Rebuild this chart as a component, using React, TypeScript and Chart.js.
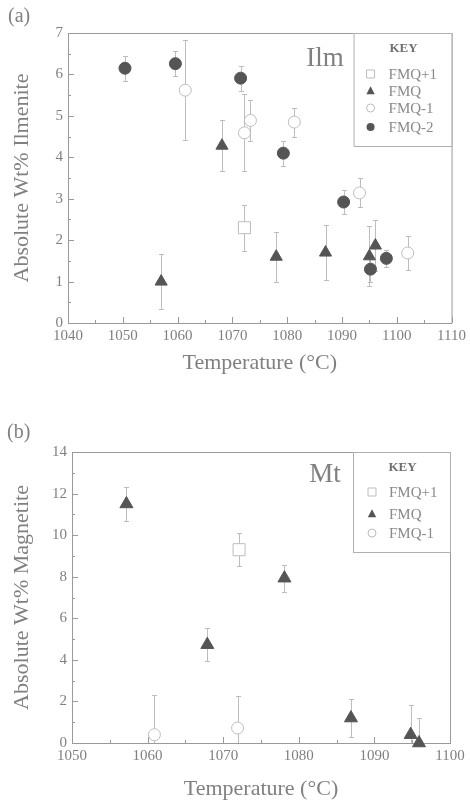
import React, { useEffect, useRef } from 'react';
import { Chart, registerables } from 'chart.js';

Chart.register(...registerables);

// ---------- Panel (a): Ilmenite ----------
const ilmFmqP1Temp = [1072.2];
const ilmFmqP1Wt = [2.3];
const ilmFmqP1Err = [0.55];

const ilmFmqTemp = [1057.0, 1068.1, 1078.0, 1087.0, 1095.0, 1096.1];
const ilmFmqWt = [1.0, 4.28, 1.6, 1.7, 1.61, 1.87];
const ilmFmqErr = [0.67, 0.62, 0.6, 0.67, 0.72, 0.62];

const ilmFmqM1Temp = [1061.4, 1072.2, 1073.3, 1081.3, 1093.2, 1102.0];
const ilmFmqM1Wt = [5.62, 4.59, 4.89, 4.85, 3.14, 1.69];
const ilmFmqM1Err = [1.2, 0.93, 0.5, 0.35, 0.35, 0.4];

const ilmFmqM2Temp = [1050.4, 1059.6, 1071.5, 1079.3, 1090.3, 1095.2, 1098.1];
const ilmFmqM2Wt = [6.15, 6.26, 5.91, 4.1, 2.92, 1.3, 1.56];
const ilmFmqM2Err = [0.3, 0.3, 0.3, 0.3, 0.3, 0.3, 0.2];

const ilmXRange = [1040, 1110, 10];
const ilmYRange = [0, 7, 1];

// ---------- Panel (b): Magnetite ----------
const mtFmqP1Temp = [1072.1];
const mtFmqP1Wt = [9.3];
const mtFmqP1Err = [0.8];

const mtFmqTemp = [1057.2, 1067.9, 1078.1, 1086.9, 1094.8, 1095.9];
const mtFmqWt = [11.5, 4.73, 7.93, 1.2, 0.4, 0.0];
const mtFmqErr = [0.8, 0.8, 0.65, 0.9, 1.45, 1.2];

const mtFmqM1Temp = [1060.9, 1071.9];
const mtFmqM1Wt = [0.4, 0.72];
const mtFmqM1Err = [1.9, 1.55];

const mtXRange = [1050, 1100, 10];
const mtYRange = [0, 14, 2];

const seriesNames = ['FMQ+1', 'FMQ', 'FMQ-1', 'FMQ-2'];

const SERIF = '"Liberation Serif", "DejaVu Serif", serif';
const TEXT = '#808080';
const DARK = '#555555';
const LIGHT = '#bdbdbd';
const AXIS = '#9a9a9a';

function pts(xs: number[], ys: number[]) {
  return xs.map((x, i) => ({ x, y: ys[i] }));
}

type Style = { kind: 'square' | 'triangle' | 'open' | 'filled' };

function drawMarker(ctx: CanvasRenderingContext2D, kind: string, x: number, y: number, s: number) {
  ctx.save();
  ctx.lineWidth = 1;
  ctx.beginPath();
  if (kind === 'square') {
    ctx.rect(x - s, y - s, 2 * s, 2 * s);
    ctx.fillStyle = '#fff';
    ctx.strokeStyle = LIGHT;
    ctx.fill();
    ctx.stroke();
  } else if (kind === 'triangle') {
    ctx.moveTo(x, y - s * 1.2);
    ctx.lineTo(x + s * 1.05, y + s * 0.8);
    ctx.lineTo(x - s * 1.05, y + s * 0.8);
    ctx.closePath();
    ctx.fillStyle = DARK;
    ctx.fill();
  } else if (kind === 'open') {
    ctx.arc(x, y, s, 0, Math.PI * 2);
    ctx.fillStyle = '#fff';
    ctx.strokeStyle = LIGHT;
    ctx.fill();
    ctx.stroke();
  } else {
    ctx.arc(x, y, s, 0, Math.PI * 2);
    ctx.fillStyle = DARK;
    ctx.fill();
  }
  ctx.restore();
}

const decorPlugin = {
  id: 'decor',
  beforeDatasetsDraw(chart: any, _args: any, opts: any) {
    const ctx: CanvasRenderingContext2D = chart.ctx;
    const xs = chart.scales.x;
    const ys = chart.scales.y;
    const a = chart.chartArea;
    ctx.save();
    // frame top/right
    ctx.strokeStyle = AXIS;
    ctx.lineWidth = 1;
    ctx.beginPath();
    ctx.moveTo(a.left, a.top + 0.5);
    ctx.lineTo(a.right + 0.5, a.top + 0.5);
    ctx.lineTo(a.right + 0.5, a.bottom);
    ctx.stroke();
    // inward ticks
    const xMin = xs.min, xMax = xs.max;
    for (let v = xMin; v <= xMax + 1e-9; v += opts.xMinor) {
      const px = Math.round(xs.getPixelForValue(v)) + 0.5;
      const major = Math.abs((v - xMin) / opts.xMajor - Math.round((v - xMin) / opts.xMajor)) < 1e-6;
      const len = major ? 6 : 3;
      ctx.beginPath();
      ctx.moveTo(px, a.bottom);
      ctx.lineTo(px, a.bottom - len);
      ctx.stroke();
    }
    const yMin = ys.min, yMax = ys.max;
    for (let v = yMin; v <= yMax + 1e-9; v += opts.yMinor) {
      const py = Math.round(ys.getPixelForValue(v)) + 0.5;
      const major = Math.abs((v - yMin) / opts.yMajor - Math.round((v - yMin) / opts.yMajor)) < 1e-6;
      const len = major ? 6 : 3;
      ctx.beginPath();
      ctx.moveTo(a.left, py);
      ctx.lineTo(a.left + len, py);
      ctx.stroke();
    }
    // error bars
    ctx.beginPath();
    ctx.rect(a.left, a.top, a.right - a.left, a.bottom - a.top);
    ctx.clip();
    ctx.strokeStyle = LIGHT;
    ctx.lineWidth = 1;
    chart.data.datasets.forEach((ds: any) => {
      const errs: number[] = ds.errors;
      if (!errs) return;
      ds.data.forEach((p: any, i: number) => {
        const px = Math.round(xs.getPixelForValue(p.x)) + 0.5;
        const t = Math.round(ys.getPixelForValue(p.y + errs[i])) + 0.5;
        const b = Math.round(ys.getPixelForValue(p.y - errs[i])) + 0.5;
        ctx.beginPath();
        ctx.moveTo(px, t);
        ctx.lineTo(px, b);
        ctx.moveTo(px - 2.5, t);
        ctx.lineTo(px + 2.5, t);
        ctx.moveTo(px - 2.5, b);
        ctx.lineTo(px + 2.5, b);
        ctx.stroke();
      });
    });
    ctx.restore();
  },
  afterDatasetsDraw(chart: any, _args: any, opts: any) {
    const ctx: CanvasRenderingContext2D = chart.ctx;
    const a = chart.chartArea;
    ctx.save();
    // panel label
    ctx.fillStyle = TEXT;
    ctx.font = `20px ${SERIF}`;
    ctx.textBaseline = 'middle';
    ctx.textAlign = 'left';
    ctx.fillText(opts.panel, opts.panelX, opts.panelY);
    // mineral label
    ctx.font = `27px ${SERIF}`;
    ctx.textAlign = 'center';
    ctx.fillText(opts.mineral, opts.mineralX, opts.mineralY);
    // legend box
    const bx = a.right - opts.legendW;
    const by = a.top;
    ctx.strokeStyle = '#b0b0b0';
    ctx.lineWidth = 1;
    ctx.fillStyle = '#fff';
    ctx.fillRect(bx, by, opts.legendW, opts.legendH);
    ctx.strokeRect(bx + 0.5, by + 0.5, opts.legendW, opts.legendH);
    ctx.fillStyle = '#707070';
    ctx.font = `bold 13px ${SERIF}`;
    ctx.textAlign = 'center';
    ctx.fillText('KEY', bx + opts.legendW / 2 + 1, by + opts.keyDy);
    ctx.font = `15px ${SERIF}`;
    ctx.textAlign = 'left';
    const kinds = ['square', 'triangle', 'open', 'filled'];
    chart.data.datasets.forEach((ds: any, i: number) => {
      const yy = by + opts.rowY[i];
      drawMarker(ctx, kinds[i], bx + opts.markerDx, yy, 4);
      ctx.fillStyle = '#8a8a8a';
      ctx.fillText(ds.label, bx + opts.textDx, yy + 1);
    });
    ctx.restore();
  },
};

function makeDatasets(groups: { t: number[]; w: number[]; e: number[] }[], sizes: number[]) {
  const styles = [
    { pointStyle: 'rect', backgroundColor: '#ffffff', borderColor: LIGHT, borderWidth: 1 },
    { pointStyle: 'triangle', backgroundColor: DARK, borderColor: DARK, borderWidth: 1 },
    { pointStyle: 'circle', backgroundColor: '#ffffff', borderColor: LIGHT, borderWidth: 1 },
    { pointStyle: 'circle', backgroundColor: DARK, borderColor: DARK, borderWidth: 1 },
  ];
  return groups.map((g, i) => ({
    label: seriesNames[i],
    data: pts(g.t, g.w),
    errors: g.e,
    pointRadius: sizes[i],
    pointHoverRadius: sizes[i],
    clip: false,
    showLine: false,
    ...styles[i],
  }));
}

function axes(xr: number[], yr: number[], yTitle: string, yWidth: number, xHeight: number, xTitlePad: number) {
  return {
    x: {
      type: 'linear',
      min: xr[0],
      max: xr[1],
      ticks: { stepSize: xr[2], color: TEXT, font: { family: SERIF, size: 15 }, padding: 4, maxRotation: 0, callback: (v: any) => String(v) },
      grid: { display: false, drawTicks: false },
      border: { display: true, color: AXIS, width: 1 },
      title: { display: true, text: 'Temperature (°C)', color: TEXT, font: { family: SERIF, size: 22 }, padding: { top: 0, bottom: xTitlePad } },
      afterFit: (s: any) => { s.height = xHeight; },
    },
    y: {
      type: 'linear',
      min: yr[0],
      max: yr[1],
      ticks: { stepSize: yr[2], color: TEXT, font: { family: SERIF, size: 15 }, padding: 5 },
      grid: { display: false, drawTicks: false },
      border: { display: true, color: AXIS, width: 1 },
      title: { display: true, text: yTitle, color: TEXT, font: { family: SERIF, size: 22 }, padding: { top: 9, bottom: 0 } },
      afterFit: (s: any) => { s.width = yWidth; },
    },
  };
}

function Panel(props: { width: number; height: number; config: any }) {
  const ref = useRef<HTMLCanvasElement>(null);
  useEffect(() => {
    if (!ref.current) return;
    const chart = new Chart(ref.current, props.config);
    return () => chart.destroy();
  }, []);
  return <canvas ref={ref} width={props.width} height={props.height} style={{ display: 'block', width: props.width, height: props.height }} />;
}

export default function App() {
  const ilmConfig = {
    type: 'scatter',
    data: {
      datasets: makeDatasets(
        [
          { t: ilmFmqP1Temp, w: ilmFmqP1Wt, e: ilmFmqP1Err },
          { t: ilmFmqTemp, w: ilmFmqWt, e: ilmFmqErr },
          { t: ilmFmqM1Temp, w: ilmFmqM1Wt, e: ilmFmqM1Err },
          { t: ilmFmqM2Temp, w: ilmFmqM2Wt, e: ilmFmqM2Err },
        ],
        [8.5, 7, 6, 6]
      ),
    },
    options: {
      responsive: false,
      animation: false,
      events: [],
      layout: { padding: { left: 0, top: 33, right: 14, bottom: 0 } },
      scales: axes(ilmXRange, ilmYRange, 'Absolute Wt% Ilmenite', 68, 77, 24),
      plugins: {
        legend: { display: false },
        tooltip: { enabled: false },
        decor: {
          panel: '(a)', panelX: 8, panelY: 17,
          mineral: 'Ilm', mineralX: 325, mineralY: 59,
          legendW: 98, legendH: 113, keyDy: 16,
          rowY: [41, 58, 75, 94], markerDx: 17, textDx: 35,
          xMinor: 5, xMajor: 10, yMinor: 0.5, yMajor: 1,
        },
      },
    },
    plugins: [decorPlugin],
  };

  const mtConfig = {
    type: 'scatter',
    data: {
      datasets: makeDatasets(
        [
          { t: mtFmqP1Temp, w: mtFmqP1Wt, e: mtFmqP1Err },
          { t: mtFmqTemp, w: mtFmqWt, e: mtFmqErr },
          { t: mtFmqM1Temp, w: mtFmqM1Wt, e: mtFmqM1Err },
        ],
        [8.5, 7.5, 6]
      ),
    },
    options: {
      responsive: false,
      animation: false,
      events: [],
      layout: { padding: { left: 0, top: 52, right: 20, bottom: 0 } },
      scales: axes(mtXRange, mtYRange, 'Absolute Wt% Magnetite', 72, 59, 0),
      plugins: {
        legend: { display: false },
        tooltip: { enabled: false },
        decor: {
          panel: '(b)', panelX: 7, panelY: 33,
          mineral: 'Mt', mineralX: 325, mineralY: 75,
          legendW: 97, legendH: 100, keyDy: 16,
          rowY: [40, 62, 81], markerDx: 19, textDx: 36,
          xMinor: 5, xMajor: 10, yMinor: 1, yMajor: 2,
        },
      },
    },
    plugins: [decorPlugin],
  };

  return (
    <div style={{ position: 'absolute', left: 0, top: 0, width: 470, height: 802, background: '#fff' }}>
      <Panel width={470} height={400} config={ilmConfig} />
      <Panel width={470} height={402} config={mtConfig} />
    </div>
  );
}
